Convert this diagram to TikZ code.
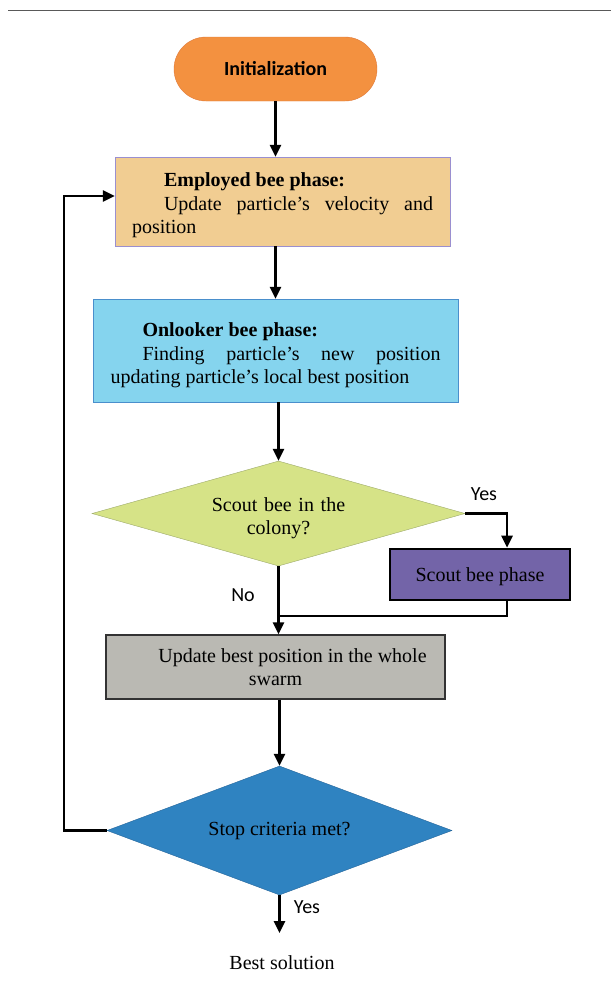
\documentclass[tikz,border=0pt]{standalone}
\usepackage{fontspec}
\setmainfont{Liberation Serif}
\newfontfamily\carl{Carlito}
\usetikzlibrary{shapes.geometric,arrows.meta}
\definecolor{initfill}{HTML}{F39140}
\definecolor{initdraw}{HTML}{E07A3A}
\definecolor{empfill}{HTML}{F1CD92}
\definecolor{empdraw}{HTML}{9A8FD0}
\definecolor{onlfill}{HTML}{85D4EE}
\definecolor{onldraw}{HTML}{4A8FCC}
\definecolor{decfill}{HTML}{D6E387}
\definecolor{decdraw}{HTML}{9DAA6A}
\definecolor{scoutfill}{HTML}{7364A8}
\definecolor{updfill}{HTML}{BAB9B3}
\definecolor{stopfill}{HTML}{2F83C1}
\definecolor{stopdraw}{HTML}{25659A}
\begin{document}
\begin{tikzpicture}[x=1pt,y=-1pt,
  base/.style={font=\fontsize{20}{23.5}\selectfont, inner sep=0pt},
  procbox/.style={base, rectangle, draw},
  decbox/.style={base, diamond, draw, align=center, aspect=3.5},
  lbl/.style={font=\carl\fontsize{20}{24}\selectfont, inner sep=0pt},
  wire/.style={line width=2.6pt},
  arr/.style={line width=2.6pt, -{Triangle[length=12pt,width=11pt]}}]
\useasboundingbox (0,0) rectangle (611,994);
\coordinate (rl) at (8,10);
\coordinate (rr) at (611,10);
\draw[line width=1pt, black!65] (rl) -- (rr);

\node[base, draw=initdraw, fill=initfill, rounded corners=32pt,
  minimum width=203pt, minimum height=64pt, font=\carl\bfseries\fontsize{20}{24}\selectfont]
  (init) at (275.5,69) {Initialization};

\node[procbox, draw=empdraw, fill=empfill, minimum width=335pt, minimum height=89pt,
  text width=301pt, align=justify] (emp) at (282.5,201.5)
  {\parindent=0pt\rule{0pt}{22pt}\hspace*{32pt}\textbf{Employed bee phase:}\par
   \hspace*{32pt}Update particle’s velocity and\linebreak position};

\node[procbox, draw=onldraw, fill=onlfill, minimum width=365pt, minimum height=103pt,
  text width=330pt, align=justify] (onl) at (275.5,350.5)
  {\parindent=0pt\rule{0pt}{24pt}\hspace*{32pt}\textbf{Onlooker bee phase:}\par
   \hspace*{32pt}Finding particle’s new position\linebreak updating particle’s local best position};

\node[decbox, draw=decdraw, fill=decfill, minimum width=373pt, minimum height=105pt,
  text width=180pt] (dec1) at (278.5,513.5) {\rule{0pt}{23pt}Scout bee in the\\colony?};

\node[procbox, line width=2.6pt, draw=black, fill=scoutfill, minimum width=180pt, minimum height=51pt,
  text height=18pt] (scout) at (480,574.5) {Scout bee phase};

\node[procbox, line width=1.2pt, draw=black!80, fill=updfill, minimum width=339pt, minimum height=64pt,
  align=center] (upd) at (275.5,667)
  {\hspace*{34pt}Update best position in the whole\\swarm};

\node[decbox, draw=stopdraw, fill=stopfill, minimum width=345pt, minimum height=129pt]
  (stop) at (279.5,830.5) {Stop criteria met?};

\node[base] (best) at (282,963) {Best solution};

\node[lbl] (yes1) at (484,494) {Yes};
\node[lbl] (no1) at (243,595) {No};
\node[lbl] (yes2) at (307,907) {Yes};

\coordinate (sx) at (507,0);
\coordinate (join) at (277,616);
\coordinate (lp) at (64,0);
\coordinate (yend) at (279.5,933);
\path ([yshift=5.5pt]emp.west) coordinate (ein);

\draw[arr] (init.south) -- (init.south |- emp.north);
\draw[arr] (init.south |- emp.south) -- (init.south |- onl.north);
\draw[arr] (dec1.north |- onl.south) -- (dec1.north);
\draw[arr] (dec1.east) -| (sx |- scout.north);
\draw[wire] (sx |- scout.south) -- (sx |- join) -- (join);
\draw[arr] (dec1.south) -- (dec1.south |- upd.north);
\draw[arr] (stop.north |- upd.south) -- (stop.north);
\draw[arr] (stop.west) -- (lp |- stop.west) -- (lp |- ein) -- (ein);
\draw[arr] (stop.south) -- (yend);
\end{tikzpicture}
\end{document}
